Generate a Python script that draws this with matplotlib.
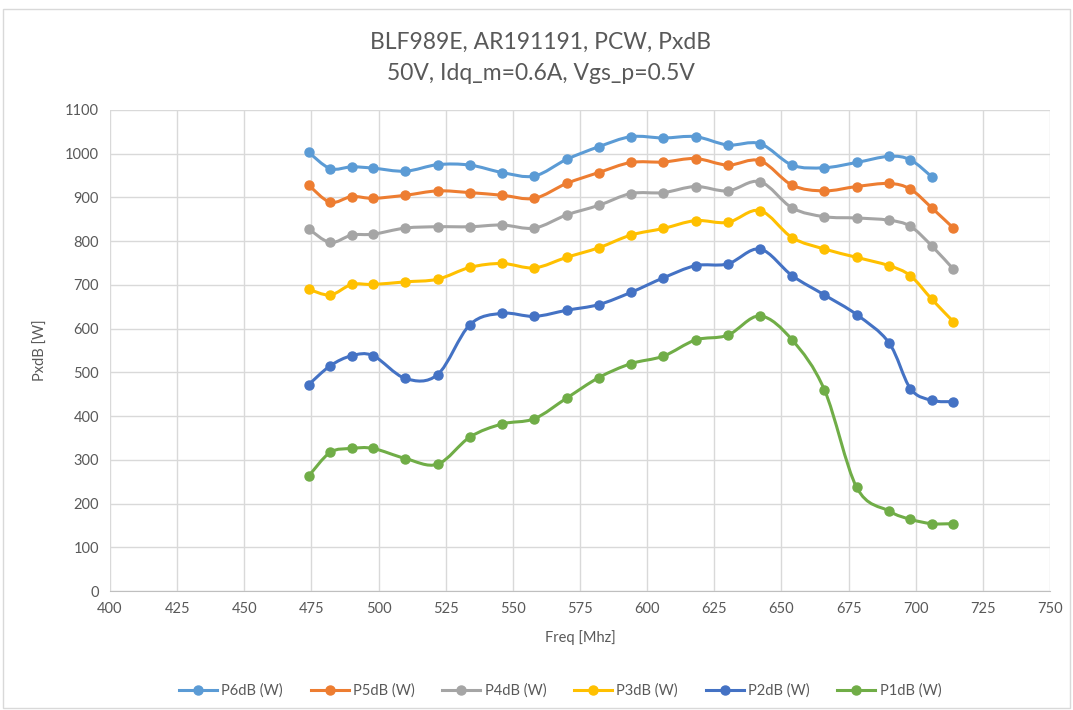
import matplotlib
matplotlib.use("Agg")
import matplotlib.pyplot as plt
import numpy as np
from matplotlib.path import Path
from matplotlib.patches import PathPatch, Rectangle
from matplotlib.lines import Line2D

plt.rcParams['font.family'] = ['Lato', 'DejaVu Sans']

freq = [474, 482, 490, 498, 510, 522, 534, 546, 558, 570, 582, 594,
        606, 618, 630, 642, 654, 666, 678, 690, 698, 706, 714]

p6db = [1003, 966, 970, 967, 960, 975, 974, 957, 949, 987, 1016, 1039,
        1036, 1039, 1020, 1023, 974, 968, 980, 994, 986, 947]
p5db = [928, 889, 902, 898, 905, 915, 911, 905, 898, 932, 957, 980,
        981, 989, 974, 984, 928, 915, 925, 932, 919, 876, 830]
p4db = [828, 797, 814, 816, 830, 833, 833, 837, 830, 860, 882, 909,
        911, 925, 915, 936, 876, 856, 853, 848, 834, 789, 736]
p3db = [690, 677, 701, 701, 707, 713, 740, 749, 739, 763, 785, 814,
        829, 847, 843, 870, 808, 782, 763, 744, 721, 667, 616]
p2db = [472, 515, 538, 538, 486, 495, 609, 635, 628, 642, 655, 683,
        716, 744, 748, 782, 721, 677, 632, 568, 463, 436, 433]
p1db = [263, 317, 326, 326, 303, 290, 352, 382, 394, 441, 488, 520,
        537, 574, 585, 629, 574, 460, 237, 183, 164, 154, 154]

names = ["P6dB (W)", "P5dB (W)", "P4dB (W)", "P3dB (W)", "P2dB (W)", "P1dB (W)"]
series = [p6db, p5db, p4db, p3db, p2db, p1db]
colors = ["#5B9BD5", "#ED7D31", "#A5A5A5", "#FFC000", "#4472C4", "#70AD47"]


def smooth_path(x, y):
    # Excel-style smoothed line: cubic bezier through the points
    pts = np.column_stack([x, y]).astype(float)
    n = len(pts)
    verts = [pts[0]]
    codes = [Path.MOVETO]
    for i in range(n - 1):
        p0 = pts[i - 1] if i > 0 else pts[i]
        p1 = pts[i]
        p2 = pts[i + 1]
        p3 = pts[i + 2] if i + 2 < n else pts[i + 1]
        c1 = p1 + (p2 - p0) / 6.0
        c2 = p2 - (p3 - p1) / 6.0
        verts += [c1, c2, p2]
        codes += [Path.CURVE4] * 3
    return Path(verts, codes)


fig = plt.figure(figsize=(10.73, 7.10), dpi=100)
ax = fig.add_axes([0.1025, 0.1676, 0.8761, 0.6775])

handles = []
for name, vals, c in zip(names, series, colors):
    xs = freq[:len(vals)]
    patch = PathPatch(smooth_path(xs, vals), facecolor="none", edgecolor=c,
                      lw=2.2, capstyle="round", joinstyle="round", zorder=3)
    ax.add_patch(patch)
    ax.plot(xs, vals, linestyle="none", marker="o", markersize=6.5,
            color=c, zorder=4)
    handles.append(Line2D([], [], color=c, lw=2.2, marker="o", markersize=6.5))

ax.set_xlim(400, 750)
ax.set_ylim(0, 1100)
ax.set_xticks(np.arange(400, 751, 25))
ax.set_yticks(np.arange(0, 1101, 100))
ax.grid(True, color="#d9d9d9", lw=1)
ax.set_axisbelow(True)
for s in ["top", "right", "left"]:
    ax.spines[s].set_visible(False)
ax.spines["bottom"].set_color("#bfbfbf")
ax.tick_params(length=0, labelsize=10.5, labelcolor="#595959", pad=8)

ax.set_xlabel("Freq [Mhz]", fontsize=10.5, color="#595959", labelpad=10)
ax.set_ylabel("PxdB [W]", fontsize=10.5, color="#595959", labelpad=12)

fig.text(0.504, 0.94, "BLF989E, AR191191, PCW, PxdB", ha="center", va="center",
         fontsize=16.5, color="#595959")
fig.text(0.504, 0.896, "50V, Idq_m=0.6A, Vgs_p=0.5V", ha="center", va="center",
         fontsize=16.5, color="#595959")

fig.legend(handles, names, loc="center", bbox_to_anchor=(0.522, 0.027), ncol=6,
           frameon=False, fontsize=10.5, labelcolor="#595959", handlelength=2.6,
           columnspacing=1.9, handletextpad=0.3)

fig.add_artist(Rectangle((0.003, 0.003), 0.994, 0.984, transform=fig.transFigure,
                         fill=False, edgecolor="#d9d9d9", lw=1))

fig.savefig("out.png", dpi=100)
